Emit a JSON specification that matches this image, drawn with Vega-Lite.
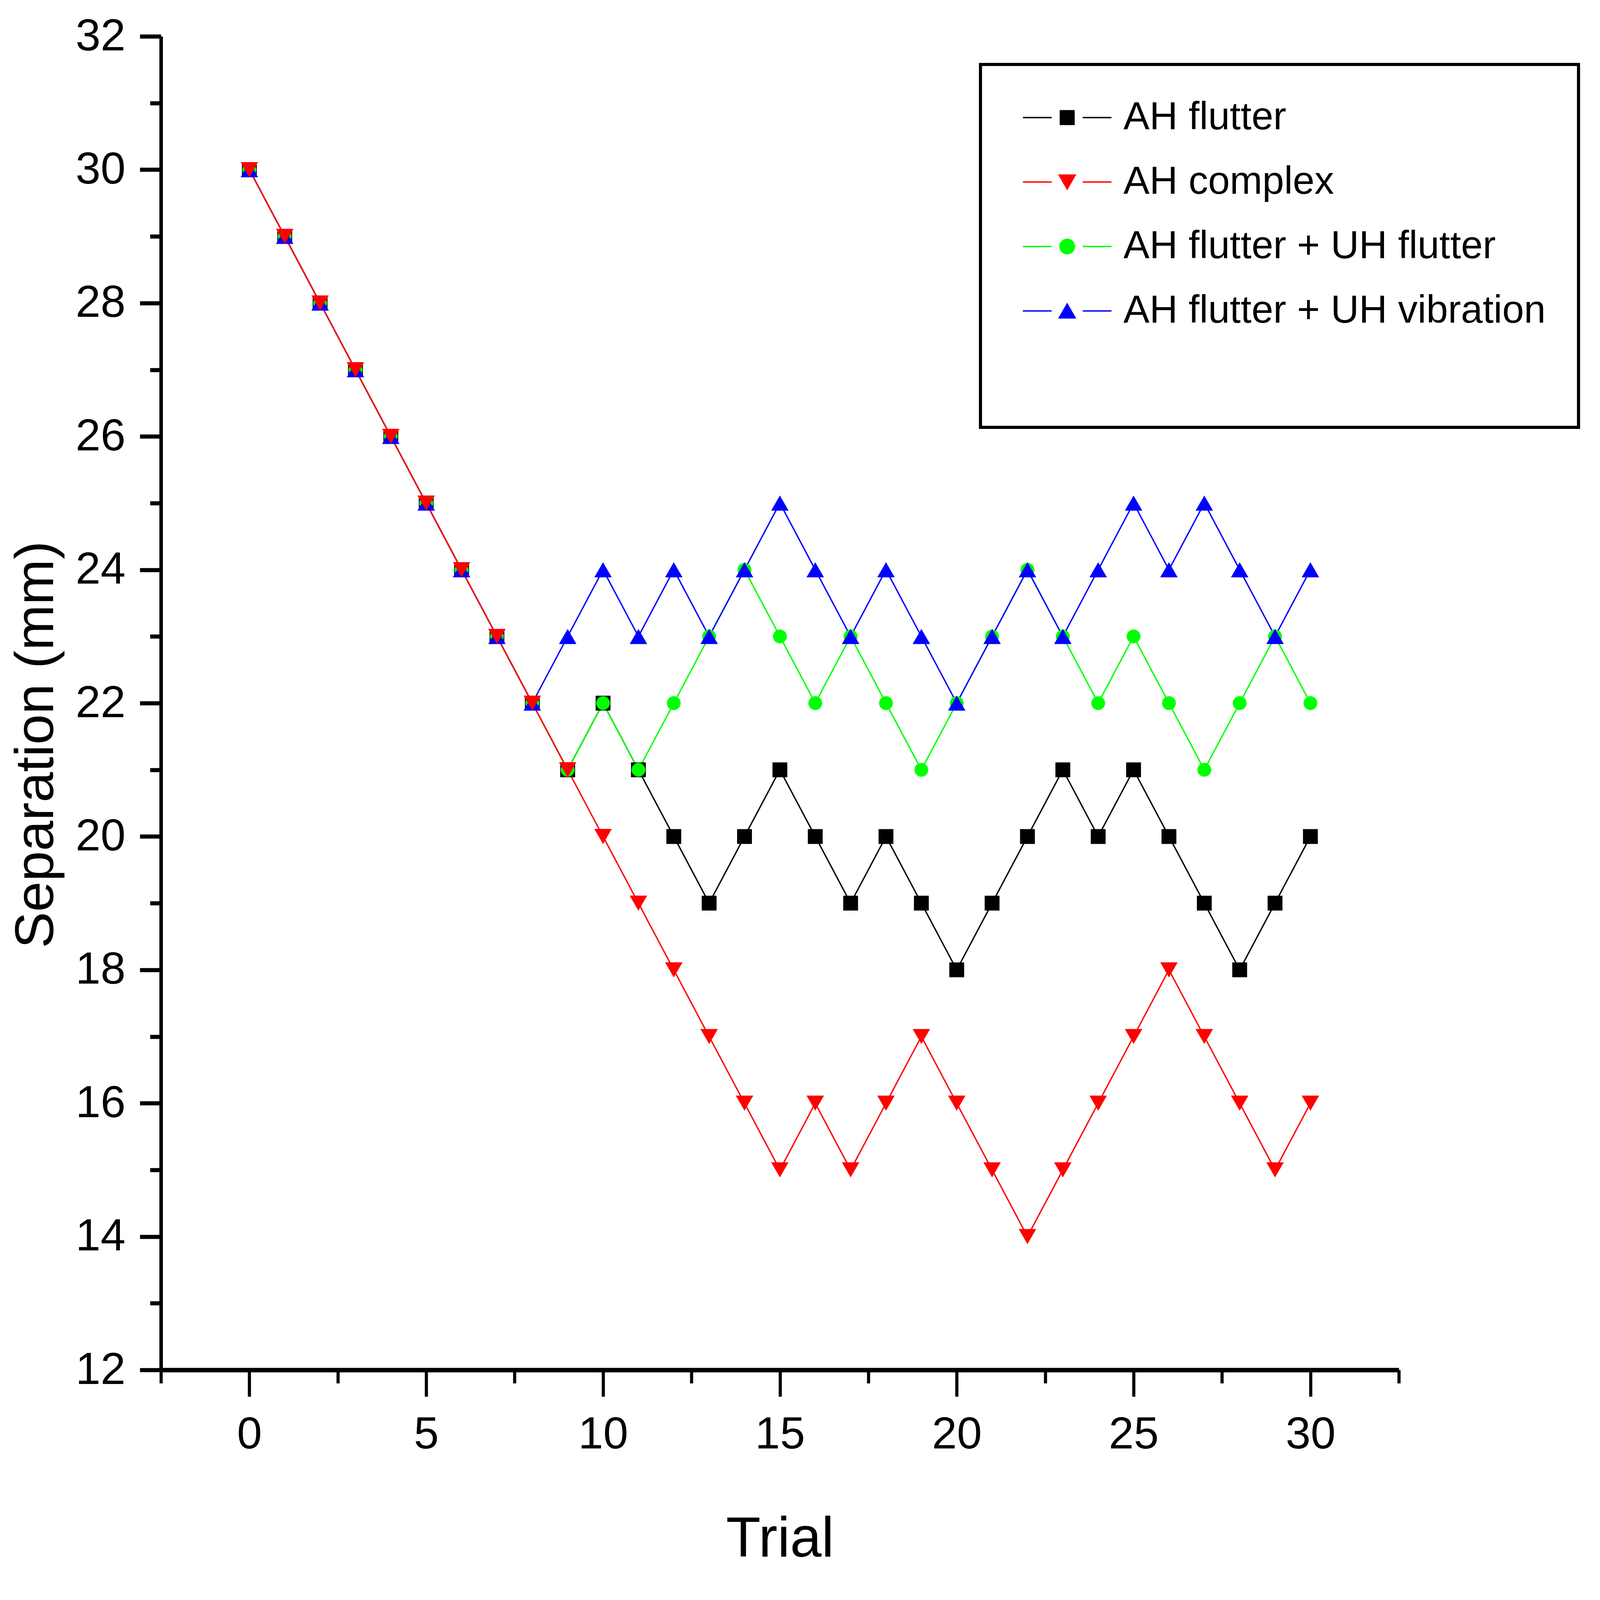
{
  "$schema": "https://vega.github.io/schema/vega-lite/v6.json",
  "width": 3169,
  "height": 3414,
  "autosize": "none",
  "padding": {"left": 412, "top": 93, "right": 515, "bottom": 589},
  "background": "white",
  "config": {
    "view": {"stroke": null},
    "font": "Liberation Sans",
    "legend": {"strokeWidth": 8},
    "axis": {
      "grid": false,
      "domainColor": "black",
      "tickColor": "black",
      "labelFont": "Liberation Sans",
      "labelFontSize": 115,
      "labelColor": "black",
      "labelFlush": false,
      "labelOverlap": false,
      "titleFont": "Liberation Sans",
      "titleFontWeight": "normal",
      "titleColor": "black"
    }
  },
  "data": {
    "values": [
      {"t": 0, "s": "AH flutter", "v": 30}, {"t": 1, "s": "AH flutter", "v": 29}, {"t": 2, "s": "AH flutter", "v": 28},
      {"t": 3, "s": "AH flutter", "v": 27}, {"t": 4, "s": "AH flutter", "v": 26}, {"t": 5, "s": "AH flutter", "v": 25},
      {"t": 6, "s": "AH flutter", "v": 24}, {"t": 7, "s": "AH flutter", "v": 23}, {"t": 8, "s": "AH flutter", "v": 22},
      {"t": 9, "s": "AH flutter", "v": 21}, {"t": 10, "s": "AH flutter", "v": 22}, {"t": 11, "s": "AH flutter", "v": 21},
      {"t": 12, "s": "AH flutter", "v": 20}, {"t": 13, "s": "AH flutter", "v": 19}, {"t": 14, "s": "AH flutter", "v": 20},
      {"t": 15, "s": "AH flutter", "v": 21}, {"t": 16, "s": "AH flutter", "v": 20}, {"t": 17, "s": "AH flutter", "v": 19},
      {"t": 18, "s": "AH flutter", "v": 20}, {"t": 19, "s": "AH flutter", "v": 19}, {"t": 20, "s": "AH flutter", "v": 18},
      {"t": 21, "s": "AH flutter", "v": 19}, {"t": 22, "s": "AH flutter", "v": 20}, {"t": 23, "s": "AH flutter", "v": 21},
      {"t": 24, "s": "AH flutter", "v": 20}, {"t": 25, "s": "AH flutter", "v": 21}, {"t": 26, "s": "AH flutter", "v": 20},
      {"t": 27, "s": "AH flutter", "v": 19}, {"t": 28, "s": "AH flutter", "v": 18}, {"t": 29, "s": "AH flutter", "v": 19},
      {"t": 30, "s": "AH flutter", "v": 20},

      {"t": 0, "s": "AH flutter + UH flutter", "v": 30}, {"t": 1, "s": "AH flutter + UH flutter", "v": 29}, {"t": 2, "s": "AH flutter + UH flutter", "v": 28},
      {"t": 3, "s": "AH flutter + UH flutter", "v": 27}, {"t": 4, "s": "AH flutter + UH flutter", "v": 26}, {"t": 5, "s": "AH flutter + UH flutter", "v": 25},
      {"t": 6, "s": "AH flutter + UH flutter", "v": 24}, {"t": 7, "s": "AH flutter + UH flutter", "v": 23}, {"t": 8, "s": "AH flutter + UH flutter", "v": 22},
      {"t": 9, "s": "AH flutter + UH flutter", "v": 21}, {"t": 10, "s": "AH flutter + UH flutter", "v": 22}, {"t": 11, "s": "AH flutter + UH flutter", "v": 21},
      {"t": 12, "s": "AH flutter + UH flutter", "v": 22}, {"t": 13, "s": "AH flutter + UH flutter", "v": 23}, {"t": 14, "s": "AH flutter + UH flutter", "v": 24},
      {"t": 15, "s": "AH flutter + UH flutter", "v": 23}, {"t": 16, "s": "AH flutter + UH flutter", "v": 22}, {"t": 17, "s": "AH flutter + UH flutter", "v": 23},
      {"t": 18, "s": "AH flutter + UH flutter", "v": 22}, {"t": 19, "s": "AH flutter + UH flutter", "v": 21}, {"t": 20, "s": "AH flutter + UH flutter", "v": 22},
      {"t": 21, "s": "AH flutter + UH flutter", "v": 23}, {"t": 22, "s": "AH flutter + UH flutter", "v": 24}, {"t": 23, "s": "AH flutter + UH flutter", "v": 23},
      {"t": 24, "s": "AH flutter + UH flutter", "v": 22}, {"t": 25, "s": "AH flutter + UH flutter", "v": 23}, {"t": 26, "s": "AH flutter + UH flutter", "v": 22},
      {"t": 27, "s": "AH flutter + UH flutter", "v": 21}, {"t": 28, "s": "AH flutter + UH flutter", "v": 22}, {"t": 29, "s": "AH flutter + UH flutter", "v": 23},
      {"t": 30, "s": "AH flutter + UH flutter", "v": 22},

      {"t": 0, "s": "AH flutter + UH vibration", "v": 30}, {"t": 1, "s": "AH flutter + UH vibration", "v": 29}, {"t": 2, "s": "AH flutter + UH vibration", "v": 28},
      {"t": 3, "s": "AH flutter + UH vibration", "v": 27}, {"t": 4, "s": "AH flutter + UH vibration", "v": 26}, {"t": 5, "s": "AH flutter + UH vibration", "v": 25},
      {"t": 6, "s": "AH flutter + UH vibration", "v": 24}, {"t": 7, "s": "AH flutter + UH vibration", "v": 23}, {"t": 8, "s": "AH flutter + UH vibration", "v": 22},
      {"t": 9, "s": "AH flutter + UH vibration", "v": 23}, {"t": 10, "s": "AH flutter + UH vibration", "v": 24}, {"t": 11, "s": "AH flutter + UH vibration", "v": 23},
      {"t": 12, "s": "AH flutter + UH vibration", "v": 24}, {"t": 13, "s": "AH flutter + UH vibration", "v": 23}, {"t": 14, "s": "AH flutter + UH vibration", "v": 24},
      {"t": 15, "s": "AH flutter + UH vibration", "v": 25}, {"t": 16, "s": "AH flutter + UH vibration", "v": 24}, {"t": 17, "s": "AH flutter + UH vibration", "v": 23},
      {"t": 18, "s": "AH flutter + UH vibration", "v": 24}, {"t": 19, "s": "AH flutter + UH vibration", "v": 23}, {"t": 20, "s": "AH flutter + UH vibration", "v": 22},
      {"t": 21, "s": "AH flutter + UH vibration", "v": 23}, {"t": 22, "s": "AH flutter + UH vibration", "v": 24}, {"t": 23, "s": "AH flutter + UH vibration", "v": 23},
      {"t": 24, "s": "AH flutter + UH vibration", "v": 24}, {"t": 25, "s": "AH flutter + UH vibration", "v": 25}, {"t": 26, "s": "AH flutter + UH vibration", "v": 24},
      {"t": 27, "s": "AH flutter + UH vibration", "v": 25}, {"t": 28, "s": "AH flutter + UH vibration", "v": 24}, {"t": 29, "s": "AH flutter + UH vibration", "v": 23},
      {"t": 30, "s": "AH flutter + UH vibration", "v": 24},

      {"t": 0, "s": "AH complex", "v": 30}, {"t": 1, "s": "AH complex", "v": 29}, {"t": 2, "s": "AH complex", "v": 28},
      {"t": 3, "s": "AH complex", "v": 27}, {"t": 4, "s": "AH complex", "v": 26}, {"t": 5, "s": "AH complex", "v": 25},
      {"t": 6, "s": "AH complex", "v": 24}, {"t": 7, "s": "AH complex", "v": 23}, {"t": 8, "s": "AH complex", "v": 22},
      {"t": 9, "s": "AH complex", "v": 21}, {"t": 10, "s": "AH complex", "v": 20}, {"t": 11, "s": "AH complex", "v": 19},
      {"t": 12, "s": "AH complex", "v": 18}, {"t": 13, "s": "AH complex", "v": 17}, {"t": 14, "s": "AH complex", "v": 16},
      {"t": 15, "s": "AH complex", "v": 15}, {"t": 16, "s": "AH complex", "v": 16}, {"t": 17, "s": "AH complex", "v": 15},
      {"t": 18, "s": "AH complex", "v": 16}, {"t": 19, "s": "AH complex", "v": 17}, {"t": 20, "s": "AH complex", "v": 16},
      {"t": 21, "s": "AH complex", "v": 15}, {"t": 22, "s": "AH complex", "v": 14}, {"t": 23, "s": "AH complex", "v": 15},
      {"t": 24, "s": "AH complex", "v": 16}, {"t": 25, "s": "AH complex", "v": 17}, {"t": 26, "s": "AH complex", "v": 18},
      {"t": 27, "s": "AH complex", "v": 17}, {"t": 28, "s": "AH complex", "v": 16}, {"t": 29, "s": "AH complex", "v": 15},
      {"t": 30, "s": "AH complex", "v": 16}
    ]
  },
  "encoding": {
    "x": {
      "field": "t",
      "type": "quantitative",
      "title": "Trial",
      "scale": {"domain": [-2.5, 32.5], "nice": false, "zero": false},
      "axis": {
        "values": [-2.5, 0, 2.5, 5, 7.5, 10, 12.5, 15, 17.5, 20, 22.5, 25, 27.5, 30, 32.5],
        "domainWidth": 11.5,
        "tickWidth": 8,
        "tickSize": {"condition": {"test": "datum.value % 5 === 0", "value": 68}, "value": 34},
        "labelExpr": "datum.value % 5 === 0 ? datum.label : ''",
        "labelPadding": 41,
        "titleFontSize": 145,
        "titleY": 477,
        "titleBaseline": "alphabetic"
      }
    },
    "y": {
      "field": "v",
      "type": "quantitative",
      "title": "Separation (mm)",
      "scale": {"domain": [12, 32], "nice": false, "zero": false},
      "axis": {
        "values": [12, 13, 14, 15, 16, 17, 18, 19, 20, 21, 22, 23, 24, 25, 26, 27, 28, 29, 30, 31, 32],
        "domainWidth": 9,
        "tickWidth": 10.5,
        "tickSize": {"condition": {"test": "datum.value % 2 === 0", "value": 54}, "value": 28},
        "labelExpr": "datum.value % 2 === 0 ? datum.label : ''",
        "labelPadding": 37,
        "titleFontSize": 140,
        "titleAngle": -90,
        "titleX": -277,
        "titleY": 1813,
        "titleAlign": "center",
        "titleBaseline": "alphabetic"
      }
    },
    "color": {
      "field": "s",
      "type": "nominal",
      "scale": {
        "domain": ["AH flutter", "AH complex", "AH flutter + UH flutter", "AH flutter + UH vibration"],
        "range": ["#000000", "#ff0000", "#00ff00", "#0000ff"]
      },
      "legend": {
        "title": null,
        "orient": "none",
        "legendX": 2098,
        "legendY": 72,
        "padding": 84,
        "strokeColor": "black",
        "rowPadding": 63,
        "symbolOffset": 86,
        "labelOffset": 92,
        "labelFont": "Liberation Sans",
        "labelFontSize": 100,
        "labelColor": "black",
        "labelLimit": 3000,
        "symbolSize": 10000,
        "symbolStrokeWidth": 3.5,
        "symbolOpacity": 1,
        "encode": {
          "symbols": {
            "update": {
              "size": {"value": 10000},
              "strokeWidth": {"value": 3.5},
              "shape": {"signal": "datum.value === 'AH flutter' ? 'M-2.268,0L-0.794,0M0.794,0L2.268,0M-0.35,-0.35L0.35,-0.35L0.35,0.35L-0.35,0.35Z' : datum.value === 'AH complex' ? 'M-2.268,0L-0.794,0M0.794,0L2.268,0M-0.408,-0.354L0.408,-0.354L0,0.354Z' : datum.value === 'AH flutter + UH flutter' ? 'M-2.268,0L-0.794,0M0.794,0L2.268,0M-0.37,0A0.37,0.37,0,1,0,0.37,0A0.37,0.37,0,1,0,-0.37,0Z' : 'M0,4.136L0,4.136M-2.268,0L-0.794,0M0.794,0L2.268,0M0,-0.354L0.408,0.354L-0.408,0.354Z'"}
            }
          }
        }
      }
    }
  },
  "layer": [
    {
      "mark": {"type": "line", "strokeWidth": 3.5}
    },
    {
      "transform": [{"filter": "datum.s === 'AH flutter'"}],
      "mark": {"type": "point", "filled": true, "opacity": 1, "shape": "square", "size": 1444}
    },
    {
      "transform": [{"filter": "datum.s === 'AH flutter + UH flutter'"}],
      "mark": {"type": "point", "filled": true, "opacity": 1, "shape": "circle", "size": 1257}
    },
    {
      "transform": [{"filter": "datum.s === 'AH flutter + UH vibration'"}],
      "mark": {"type": "point", "filled": true, "opacity": 1, "shape": "triangle-up", "size": 2000}
    },
    {
      "transform": [{"filter": "datum.s === 'AH flutter + UH vibration'"}],
      "mark": {"type": "point", "filled": true, "opacity": 0, "shape": "triangle-up", "size": 2000}
    },
    {
      "transform": [{"filter": "datum.s === 'AH complex'"}],
      "mark": {"type": "point", "filled": true, "opacity": 1, "shape": "triangle-down", "size": 2000}
    }
  ]
}
